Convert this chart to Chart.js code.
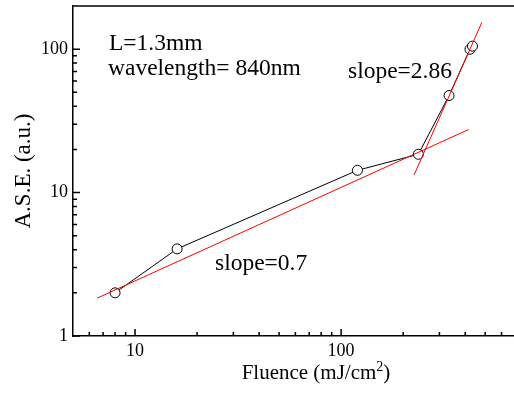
<!DOCTYPE html>
<html lang="en">
<head>
<meta charset="UTF-8">
<title>A.S.E. vs Fluence</title>
<script src="https://cdn.jsdelivr.net/npm/chart.js"></script>
<style>
  html, body { margin: 0; padding: 0; background: #fff; overflow: hidden; }
  #wrap { width: 514px; height: 393px; }
</style>
</head>
<body>
<div id="wrap"><canvas id="aseChart"></canvas></div>
<script>
// measured points
const fluence = [8, 16, 120, 237, 334, 422, 434];
const ase = [2.0, 4.05, 14.3, 18.5, 47.5, 99.8, 105];

// fitted lines (end points)
const fitLowX = [6.56, 415];
const fitLowY = [1.84, 27.5];
const fitHighX = [226, 482];
const fitHighY = [13.3, 154];

// axis ticks
const xLabelTicks = [10, 100];
const yLabelTicks = [1, 10, 100];
const xMinorTicks = [6, 7, 8, 9, 20, 30, 40, 50, 60, 70, 80, 90, 200, 300, 400, 500, 600];
const yMinorTicks = [2, 3, 4, 5, 6, 7, 8, 9, 20, 30, 40, 50, 60, 70, 80, 90];

const pts = (xs, ys) => xs.map((x, i) => ({ x: x, y: ys[i] }));

const SERIF = "'Liberation Serif', 'Times New Roman', serif";
Chart.defaults.font.family = SERIF;
Chart.defaults.color = '#000';

const inwardTicks = {
    id: 'inwardTicks',
    afterDraw(chart) {
        const { ctx, chartArea: a, scales: { x, y } } = chart;
        ctx.save();
        ctx.strokeStyle = '#000';
        ctx.lineWidth = 1.5;
        ctx.beginPath();
        ctx.moveTo(a.left, a.top);
        ctx.lineTo(a.right, a.top);
        xLabelTicks.forEach(v => { const p = x.getPixelForValue(v); ctx.moveTo(p, a.bottom); ctx.lineTo(p, a.bottom - 7); });
        xMinorTicks.forEach(v => { const p = x.getPixelForValue(v); ctx.moveTo(p, a.bottom); ctx.lineTo(p, a.bottom - 4); });
        yLabelTicks.forEach(v => { const p = y.getPixelForValue(v); ctx.moveTo(a.left, p); ctx.lineTo(a.left + 7, p); });
        yMinorTicks.forEach(v => { const p = y.getPixelForValue(v); ctx.moveTo(a.left, p); ctx.lineTo(a.left + 4, p); });
        ctx.stroke();

        // annotations
        ctx.fillStyle = '#000';
        ctx.textBaseline = 'alphabetic';
        ctx.textAlign = 'left';
        ctx.font = '23.5px ' + SERIF;
        ctx.fillText('L=1.3mm', 109, 50);
        ctx.fillText('wavelength= 840nm', 108, 75);
        ctx.fillText('slope=2.86', 348, 78);
        ctx.fillText('slope=0.7', 215, 270);

        // x axis title with superscript
        const big = '21px ' + SERIF;
        const small = '14px ' + SERIF;
        ctx.font = big;
        const main = 'Fluence (mJ/cm';
        const mainW = ctx.measureText(main).width;
        const closeW = ctx.measureText(')').width;
        ctx.font = small;
        const supW = ctx.measureText('2').width;
        let tx = 316 - (mainW + supW + closeW) / 2;
        const base = 379;
        ctx.font = big;
        ctx.fillText(main, tx, base);
        tx += mainW;
        ctx.font = small;
        ctx.fillText('2', tx, base - 8);
        tx += supW;
        ctx.font = big;
        ctx.fillText(')', tx, base);
        ctx.restore();
    }
};

new Chart(document.getElementById('aseChart'), {
    type: 'scatter',
    data: {
        datasets: [
            {
                label: 'fit low',
                data: pts(fitLowX, fitLowY),
                showLine: true,
                borderColor: '#ff0000',
                borderWidth: 1,
                pointRadius: 0,
                order: 0
            },
            {
                label: 'fit high',
                data: pts(fitHighX, fitHighY),
                showLine: true,
                borderColor: '#ff0000',
                borderWidth: 1,
                pointRadius: 0,
                order: 0
            },
            {
                label: 'A.S.E.',
                data: pts(fluence, ase),
                showLine: true,
                borderColor: '#000',
                borderWidth: 1,
                pointRadius: 5,
                pointBackgroundColor: '#fff',
                pointBorderColor: '#000',
                pointBorderWidth: 1,
                order: 1
            }
        ]
    },
    options: {
        responsive: true,
        maintainAspectRatio: false,
        animation: false,
        layout: { autoPadding: false, padding: { top: 6, right: 0, left: 0, bottom: 0 } },
        plugins: {
            legend: { display: false },
            tooltip: { enabled: false }
        },
        scales: {
            x: {
                type: 'logarithmic',
                min: 5,
                max: 690,
                afterBuildTicks: s => { s.ticks = xLabelTicks.map(v => ({ value: v })); },
                afterFit: s => { s.height = 57; s.paddingLeft = 0; s.paddingRight = 0; },
                ticks: {
                    callback: v => String(v),
                    font: { size: 18 },
                    padding: 4,
                    autoSkip: false,
                    maxRotation: 0
                },
                grid: { display: false, drawTicks: false },
                border: { display: true, color: '#000', width: 1.5 }
            },
            y: {
                type: 'logarithmic',
                min: 1,
                max: 200,
                afterBuildTicks: s => { s.ticks = yLabelTicks.map(v => ({ value: v })); },
                afterFit: s => { s.width = 73; s.paddingTop = 0; s.paddingBottom = 0; },
                ticks: {
                    callback: v => String(v),
                    font: { size: 18 },
                    padding: 5,
                    autoSkip: false
                },
                grid: { display: false, drawTicks: false },
                border: { display: true, color: '#000', width: 1.5 },
                title: {
                    display: true,
                    text: 'A.S.E. (a.u.)',
                    font: { size: 23 },
                    padding: { top: 10, bottom: 0 }
                }
            }
        }
    },
    plugins: [inwardTicks]
});
</script>
</body>
</html>
